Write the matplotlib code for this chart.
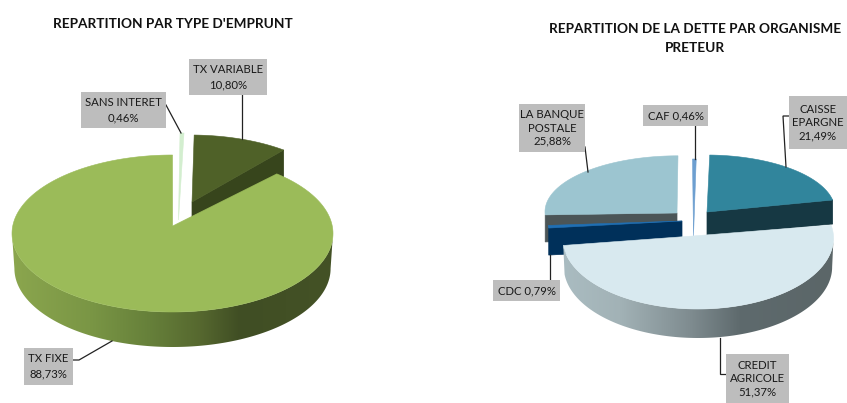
import numpy as np
import matplotlib
matplotlib.use("Agg")
import matplotlib.pyplot as plt
from matplotlib.patches import Polygon, Rectangle
from matplotlib.colors import to_rgb

plt.rcParams['font.family'] = ['Lato', 'DejaVu Sans']

# ---- data ----
type_names = ["SANS INTERET", "TX VARIABLE", "TX FIXE"]
type_values = [0.46, 10.80, 88.73]
lender_names = ["CAF", "CAISSE EPARGNE", "CREDIT AGRICOLE", "CDC", "LA BANQUE POSTALE"]
lender_values = [0.46, 21.49, 51.37, 0.79, 25.88]
title_left = "REPARTITION PAR TYPE D'EMPRUNT"
title_right = "REPARTITION DE LA DETTE PAR ORGANISME\nPRETEUR"

# ---- figure in pixel space ----
fig = plt.figure(figsize=(8.47, 4.03), dpi=100)
ax = fig.add_axes([0, 0, 1, 1])
ax.axis("off")


def spans(values):
    """Clockwise-from-top start and end angle of every slice."""
    v = np.asarray(values, float)
    edges = np.concatenate([[0], np.cumsum(v)]) / v.sum() * 360
    return list(zip(edges[:-1], edges[1:]))


def arc(a0, a1, g, n=240, scale=1.0, dy=0):
    t = np.radians(np.linspace(a0, a1, n))
    c = np.cos(t)
    ry = np.where(c > 0, g["ryt"], g["ryb"])
    return np.column_stack([g["cx"] + g["rx"] * scale * np.sin(t), g["cy"] - ry * c + dy])


def wedge(span, g, top, z, face=None, face_end=None, side=None):
    a0, a1 = span
    d = g.get("depth", 0)
    if face is not None:
        # flat cut face hanging below one straight edge of the slice
        p = arc(face_end, face_end, g, n=1)[0]
        ap = np.array(g["apex"], float)
        quad = [ap, p, p + [0, d], ap + [0, d]]
        ax.add_patch(Polygon(quad, closed=True, fc=face, ec=face, lw=0.5, zorder=z))
    if side is not None:
        lo, hi = max(a0, 90), min(a1, 270)
        up = arc(lo, hi, g)
        dn = arc(lo, hi, g, scale=g.get("bs", 1), dy=d)
        outline = np.vstack([up, dn[::-1]])
        x0, x1 = outline[:, 0].min(), outline[:, 0].max()
        y0, y1 = outline[:, 1].min(), outline[:, 1].max()
        xs, stops = zip(*side)
        rgb = np.array([to_rgb(s) for s in stops])
        grid = np.linspace(x0, x1, 400)
        img = np.stack([np.interp(grid, xs, rgb[:, k]) for k in range(3)], axis=1)[None, :, :]
        im = ax.imshow(img, extent=(x0, x1, y1, y0), aspect="auto", zorder=z,
                       interpolation="bilinear")
        clip = Polygon(outline, closed=True, transform=ax.transData, fc="none", ec="none")
        ax.add_patch(clip)
        im.set_clip_path(clip)
    pts = np.vstack([[g["apex"]], arc(a0, a1, g)])
    ax.add_patch(Polygon(pts, closed=True, fc=top, ec=top, lw=0.4, zorder=z + 0.5))


def label(x0, y0, x1, y1, lines):
    ax.add_patch(Rectangle((x0, y0), x1 - x0, y1 - y0, fc="#bdbdbd", ec="none", zorder=5))
    ax.text((x0 + x1) / 2, (y0 + y1) / 2, "\n".join(lines), ha="center", va="center",
            fontsize=8.2, color="#1a1a1a", linespacing=1.45 if len(lines) == 2 else 1.25,
            zorder=6, clip_on=False)


def leader(xs, ys):
    ax.plot(xs, ys, color="#222222", lw=0.9, zorder=4, solid_joinstyle="miter")


def pct(v):
    return f"{v:.2f}%".replace(".", ",")


# ---- left pie ----
sp = spans(type_values)
wedge(sp[0], dict(cx=180, cy=220, rx=138, ryt=87, ryb=87, apex=(178.5, 220)), "#d3eecf", 1)
wedge(sp[1], dict(cx=190, cy=197.6, rx=100 / 0.694, ryt=62.6, ryb=62.6, apex=(192, 202), depth=27),
      "#4f6128", 1.2, face="#37451c", face_end=sp[1][1])
big = dict(cx=172.5, cy=233.5, rx=160.5, ryt=78.5, ryb=78.5, apex=(172.6, 226), depth=35, bs=0.985)
wedge(sp[2], big, "#9bbb59", 2,
      side=[(12, "#8ba64e"), (90, "#7a9645"), (150, "#66803a"), (200, "#56682f"),
            (240, "#404e24"), (333, "#445226")])

# ---- right pie ----
sp = spans(lender_values)
wedge(sp[4], dict(cx=678, cy=211.8, rx=133, ryt=56, ryb=56, apex=(677, 213), depth=27),
      "#9cc5d0", 1, face="#4b5557", face_end=sp[4][0])
wedge(sp[0], dict(cx=692.5, cy=236, rx=129, ryt=77, ryb=77, apex=(693.5, 236)), "#6d9fd0", 1.2)
wedge(sp[1], dict(cx=706, cy=210.6, rx=129, ryt=55.6, ryb=55.6, apex=(707, 212), depth=24),
      "#31859c", 1.4, face="#163843", face_end=sp[1][1])
wedge(sp[3], dict(cx=682, cy=222.4, rx=134, ryt=54, ryb=54, apex=(682, 221), depth=27),
      "#1f6fb4", 1.6, face="#00305a", face_end=sp[3][0])
credit = dict(cx=698, cy=238, rx=135.5, ryt=68, ryb=71, apex=(693, 236), depth=29, bs=0.99)
wedge(sp[2], credit, "#d8e9ef", 2,
      side=[(563, "#aabcc1"), (620, "#a2b2b6"), (690, "#7f8c90"), (740, "#5e6a6d"), (833, "#5b6668")])

# ---- leaders ----
leader([242, 242], [95, 139])
leader([166, 181], [105, 133])
leader([73, 79, 112], [360, 360, 341])
leader([585, 588], [147, 172])
leader([695, 695], [126, 159])
leader([789, 783, 786], [116, 116, 167])
leader([549.5, 549.5], [280, 255])
leader([720, 720, 726], [338, 374, 374])

# ---- labels ----
label(189, 59, 267, 95, [type_names[1], pct(type_values[1])])
label(81, 92, 166, 128, [type_names[0], pct(type_values[0])])
label(24, 348, 73, 385, [type_names[2], pct(type_values[2])])
label(519, 104, 585, 152, ["LA BANQUE", "POSTALE", pct(lender_values[4])])
label(643, 105, 708, 126, [f"{lender_names[0]} {pct(lender_values[0])}"])
label(789, 96, 847, 149, ["CAISSE", "EPARGNE", pct(lender_values[1])])
label(493, 280, 560, 301, [f"{lender_names[3]} {pct(lender_values[3])}"])
label(726, 354, 789, 403, ["CREDIT", "AGRICOLE", pct(lender_values[2])])

# ---- titles ----
ax.text(173, 23.5, title_left, ha="center", va="center", fontsize=9.8, fontweight="bold", color="#111111")
ax.text(695, 38.5, title_right, ha="center", va="center", fontsize=9.8, fontweight="bold",
        color="#111111", linespacing=1.65)

ax.set_xlim(0, 847)
ax.set_ylim(403, 0)
fig.savefig("out.png", dpi=100, facecolor="white")
